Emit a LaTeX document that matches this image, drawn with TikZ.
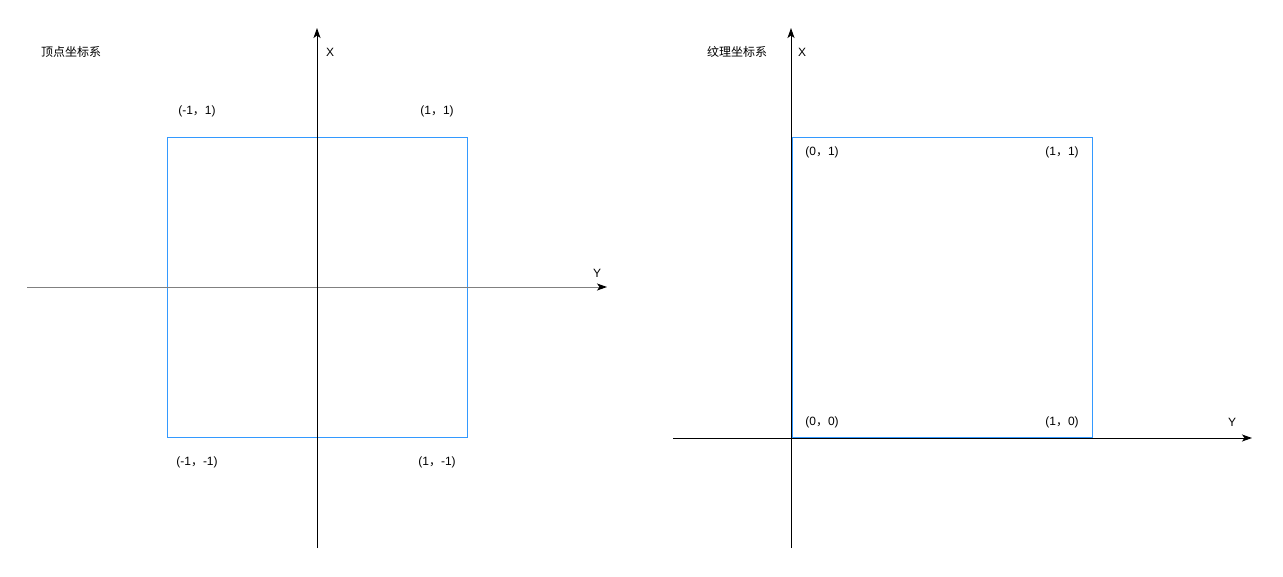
\documentclass[tikz,border=0pt]{standalone}
\usepackage{fontspec}
\setmainfont{Liberation Sans}
\newfontfamily\cjk{Noto Sans CJK SC}
\usetikzlibrary{arrows.meta}
\definecolor{sqblue}{RGB}{51,153,255}
\definecolor{axgray}{RGB}{128,128,128}
\tikzset{
  axis/.style={line width=1pt,draw=black,-{Stealth[length=10pt,width=7pt,inset=2.5pt,color=black]}},
  gaxis/.style={axis,draw=axgray},
  sq/.style={line width=1pt,draw=sqblue},
  lbl/.style={font=\fontsize{12}{14}\selectfont,inner sep=0pt,text=black},
}
\newcommand{\cm}{{\cjk ，}}
\begin{document}
\begin{tikzpicture}[x=1pt,y=-1pt]
\useasboundingbox (0,0) rectangle (1283,576);
% left system
\draw[sq] (167,137) rectangle (467,437);
\coordinate (lyb) at (27,287);
\coordinate (lye) at (607,287);
\coordinate (lxb) at (317,548);
\coordinate (lxe) at (317,28);
\draw[gaxis] (lyb) -- (lye);
\draw[axis] (lxb) -- (lxe);
\node[lbl] (ltitle) at (71,52) {\cjk 顶点坐标系};
\node[lbl] (lX) at (330,52) {X};
\node[lbl] (lY) at (597,273) {Y};
\node[lbl] (ltl) at (197,111) {(-1\cm 1)};
\node[lbl] (ltr) at (437,111) {(1\cm 1)};
\node[lbl] (lbl1) at (197,462) {(-1\cm -1)};
\node[lbl] (lbr) at (437,462) {(1\cm -1)};
% right system
\draw[sq] (792,137) rectangle (1092,437);
\coordinate (ryb) at (673,438);
\coordinate (rye) at (1252,438);
\coordinate (rxb) at (791,548);
\coordinate (rxe) at (791,28);
\draw[axis] (ryb) -- (rye);
\draw[axis] (rxb) -- (rxe);
\node[lbl] (rtitle) at (737,52) {\cjk 纹理坐标系};
\node[lbl] (rX) at (802,52) {X};
\node[lbl] (rY) at (1232,422) {Y};
\node[lbl] (rtl) at (822,152) {(0\cm 1)};
\node[lbl] (rtr) at (1062,152) {(1\cm 1)};
\node[lbl] (rbl) at (822,422) {(0\cm 0)};
\node[lbl] (rbr) at (1062,422) {(1\cm 0)};
\end{tikzpicture}
\end{document}
